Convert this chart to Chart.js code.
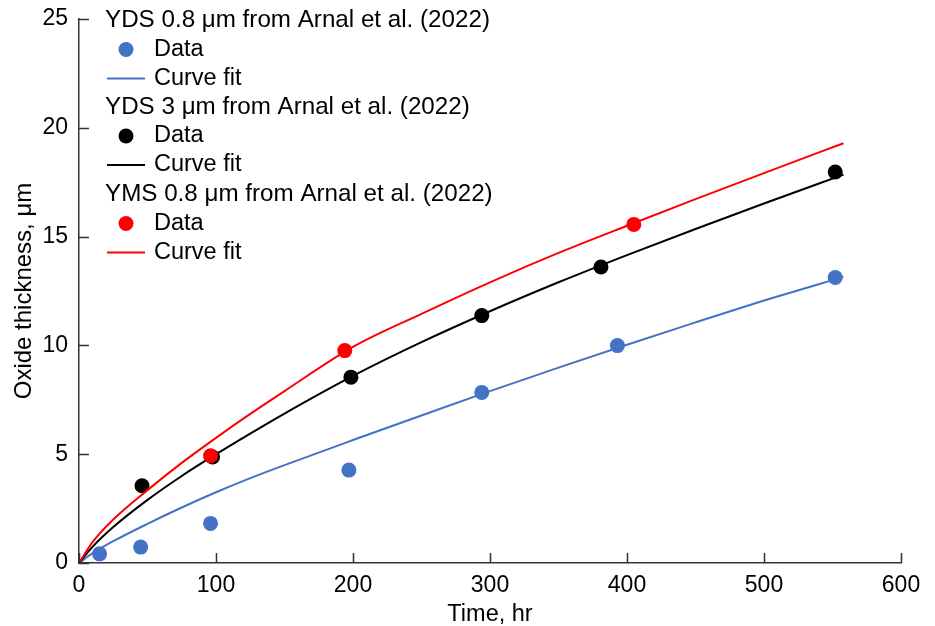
<!DOCTYPE html>
<html>
<head>
<meta charset="utf-8">
<script src="https://cdn.jsdelivr.net/npm/chart.js@4/dist/chart.umd.min.js"></script>
<style>
  html, body { margin: 0; padding: 0; background: #fff; }
  #wrap { width: 935px; height: 626px; position: relative; }
</style>
</head>
<body>
<div id="wrap"><canvas id="c"></canvas></div>
<script>
// ---- Data ----
const xTickValues = [0, 100, 200, 300, 400, 500, 600];
const yTickValues = [0, 5, 10, 15, 20, 25];

const seriesTitles = [
  "YDS 0.8 \u03BCm from Arnal et al. (2022)",
  "YDS 3 \u03BCm from Arnal et al. (2022)",
  "YMS 0.8 \u03BCm from Arnal et al. (2022)"
];
const entryLabels = ["Data", "Curve fit"];

// YDS 0.8 um data
const ydsSmallTime = [15, 45, 96, 197, 294, 393, 552];
const ydsSmallThick = [0.42, 0.73, 1.82, 4.27, 7.84, 9.99, 13.12];
// YDS 3 um data
const ydsLargeTime = [46, 97.5, 198.5, 294, 381, 552];
const ydsLargeThick = [3.55, 4.87, 8.54, 11.37, 13.6, 17.97];
// YMS 0.8 um data
const ymsTime = [96, 194, 405];
const ymsThick = [4.93, 9.76, 15.56];

// Curve fits
const fitTime = [0, 10, 25, 50, 75, 100, 125, 150, 200, 250, 300, 350, 400, 450, 500, 558];
const ydsSmallFit = [0, 0.45, 1.0, 1.8, 2.55, 3.25, 3.9, 4.5, 5.65, 6.78, 7.9, 8.98, 10.03, 11.06, 12.06, 13.15];
const ydsLargeFit = [0, 0.75, 1.65, 2.9, 4.0, 5.0, 5.95, 6.87, 8.6, 10.15, 11.57, 12.9, 14.15, 15.35, 16.52, 17.85];
const ymsFit = [0, 0.97, 2.0, 3.35, 4.6, 5.75, 6.85, 7.9, 9.93, 11.45, 12.9, 14.25, 15.5, 16.72, 17.92, 19.29];

const colors = ["#4472C4", "#000000", "#FF0000"];

// ---- Build datasets ----
const pairs = (xs, ys) => xs.map((x, i) => ({ x: x, y: ys[i] }));
function dataSet(xs, ys, color) {
  return { data: pairs(xs, ys), showLine: false, pointRadius: 7.5, pointHoverRadius: 7.5,
           backgroundColor: color, borderColor: color, borderWidth: 0, pointStyle: 'circle' };
}
function fitSet(xs, ys, color) {
  return { data: pairs(xs, ys), showLine: true, pointRadius: 0, borderColor: color,
           backgroundColor: color, borderWidth: 2, cubicInterpolationMode: 'monotone', fill: false };
}

const FONT = "'Liberation Sans', Arial, sans-serif";

const legendPlugin = {
  id: 'customLegend',
  afterDraw(chart) {
    const ctx = chart.ctx;
    ctx.save();
    ctx.textBaseline = 'middle';
    const rowStart = [20.5, 107, 194.5];
    const gap = 29;
    for (let g = 0; g < 3; g++) {
      const y0 = rowStart[g];
      ctx.fillStyle = '#000';
      ctx.font = "24.2px " + FONT;
      ctx.fillText(seriesTitles[g], 105, y0);
      ctx.font = "23.5px " + FONT;
      // Data marker
      ctx.beginPath();
      ctx.arc(126, y0 + gap, 7.5, 0, Math.PI * 2);
      ctx.fillStyle = colors[g];
      ctx.fill();
      ctx.fillStyle = '#000';
      ctx.fillText(entryLabels[0], 154, y0 + gap);
      // Line marker
      ctx.beginPath();
      ctx.moveTo(107, y0 + 2 * gap);
      ctx.lineTo(145, y0 + 2 * gap);
      ctx.strokeStyle = colors[g];
      ctx.lineWidth = 2;
      ctx.stroke();
      ctx.fillText(entryLabels[1], 154, y0 + 2 * gap);
    }
    ctx.restore();
  }
};

const innerTicksPlugin = {
  id: 'innerTicks',
  afterDraw(chart) {
    const ctx = chart.ctx;
    const xs = chart.scales.x, ys = chart.scales.y;
    const a = chart.chartArea;
    ctx.save();
    ctx.strokeStyle = '#333';
    ctx.lineWidth = 1.5;
    ctx.beginPath();
    xs.ticks.forEach((t) => {
      const px = Math.round(xs.getPixelForValue(t.value)) + 0.5;
      ctx.moveTo(px, a.bottom);
      ctx.lineTo(px, a.bottom - 10);
    });
    ys.ticks.forEach((t) => {
      const py = Math.round(ys.getPixelForValue(t.value)) + 0.5;
      ctx.moveTo(a.left, py);
      ctx.lineTo(a.left + 10, py);
    });
    ctx.stroke();
    ctx.restore();
  }
};

// Chart.js paints the last dataset first, so the list runs top layer -> bottom layer
new Chart(document.getElementById('c'), {
  type: 'scatter',
  data: {
    datasets: [
      fitSet(fitTime, ymsFit, colors[2]),
      dataSet(ymsTime, ymsThick, colors[2]),
      fitSet(fitTime, ydsLargeFit, colors[1]),
      dataSet(ydsLargeTime, ydsLargeThick, colors[1]),
      fitSet(fitTime, ydsSmallFit, colors[0]),
      dataSet(ydsSmallTime, ydsSmallThick, colors[0])
    ]
  },
  options: {
    responsive: true,
    maintainAspectRatio: false,
    animation: false,
    devicePixelRatio: 1,
    layout: { padding: { top: 19, right: 34, left: 0, bottom: 0 } },
    plugins: { legend: { display: false }, tooltip: { enabled: false } },
    scales: {
      x: {
        type: 'linear', min: 0, max: 600,
        afterBuildTicks(s) { s.ticks = xTickValues.map(v => ({ value: v })); },
        afterFit(s) { s.height = 63; s.paddingLeft = 0; s.paddingRight = 0; },
        grid: { display: false },
        border: { display: true, color: '#333', width: 1.5 },
        ticks: { color: '#000', font: { family: FONT, size: 23 }, padding: 1, maxRotation: 0 },
        title: { display: true, text: 'Time, hr', color: '#000', font: { family: FONT, size: 23.5 }, padding: { top: 0, bottom: -3 } }
      },
      y: {
        type: 'linear', min: 0, max: 25,
        afterBuildTicks(s) { s.ticks = yTickValues.map(v => ({ value: v })); },
        afterFit(s) { s.width = 79; s.paddingTop = 0; s.paddingBottom = 0; },
        grid: { display: false },
        border: { display: true, color: '#333', width: 1.5 },
        ticks: { color: '#000', font: { family: FONT, size: 23 }, padding: 3 },
        title: { display: true, text: 'Oxide thickness, \u03BCm', color: '#000', font: { family: FONT, size: 24 }, padding: { top: 10, bottom: 0 } }
      }
    }
  },
  plugins: [innerTicksPlugin, legendPlugin]
});
</script>
</body>
</html>
